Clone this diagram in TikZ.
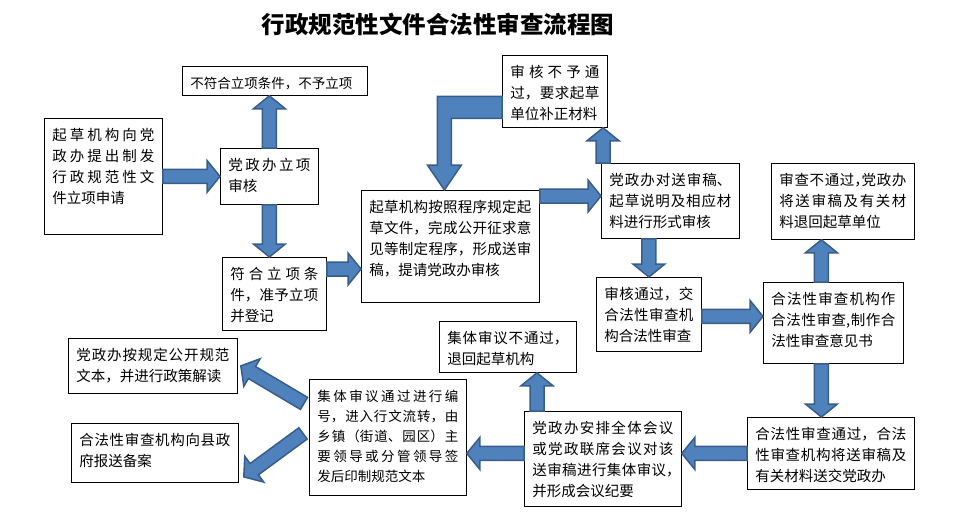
\documentclass[tikz,border=0pt]{standalone}
\usepackage{fontspec}
\setmainfont{Noto Sans CJK SC}
\usetikzlibrary{calc}
\XeTeXlinebreaklocale "zh"
\XeTeXlinebreakskip=0pt plus 4pt
\definecolor{arrowblue}{RGB}{79,129,189}
\definecolor{arrowedge}{RGB}{56,93,138}
\newcommand{\boxfont}{\tolerance=9999\fontsize{14.5}{21}\selectfont}
\newcommand{\smallboxfont}{\tolerance=9999\fontsize{13.5}{20}\selectfont}
\newcommand{\titlefont}{\bfseries\fontsize{23.5}{28}\selectfont}
\newcommand{\hc}{\makebox[.5em][l]{，}}
\tikzset{
    procbox/.style={draw=black,line width=0.8pt,fill=white,anchor=north west,
        inner xsep=8pt,inner ysep=4pt,align=justify,text height=18pt,font=\boxfont},
    smallbox/.style={procbox,font=\smallboxfont},
    blockarrow/.style={fill=arrowblue,draw=arrowedge,line width=1.5pt,line join=miter},
    titlenode/.style={font=\titlefont}
}
% straight block arrow from #1 to #2 (tip at #2)
\newcommand{\BlockArrow}[2]{%
    \coordinate (ah) at ($(#2)!13pt!(#1)$);
    \filldraw[blockarrow] ($(#1)!7pt!90:(#2)$) -- ($(ah)!7pt!-90:(#1)$) -- ($(ah)!16pt!-90:(#1)$)
        -- (#2) -- ($(ah)!16pt!90:(#1)$) -- ($(ah)!7pt!90:(#1)$) -- ($(#1)!7pt!-90:(#2)$) -- cycle;%
}

\begin{document}
\begin{tikzpicture}[x=1pt,y=-1pt]
    \useasboundingbox (0,0) rectangle (963,516);

    % title
    \node[titlenode] (title) at (438,24) {行政规范性文件合法性审查流程图};

    % upper part
    \node[procbox,text width=102pt,text depth=90pt] (b0) at (44,118) {起草机构向党\linebreak 政办提出制发\linebreak 行政规范性文\linebreak 件立项申请};
    \node[procbox,font=\smallboxfont,text width=169pt,text depth=3pt] (b1) at (182,66) {不符合立项条件，不予立项};
    \node[procbox,text width=82pt,text depth=30pt] (b2) at (220,148) {党政办立项\linebreak 审核};
    \node[procbox,text width=88pt,text depth=47pt] (b3) at (222,257) {符合立项条\linebreak 件，准予立项\linebreak 并登记};
    \node[procbox,text width=162pt,text depth=86pt] (b4) at (361,190) {起草机构按照程序规定起\linebreak 草文件，完成公开征求意\linebreak 见等制定程序，形成送审\linebreak 稿，提请党政办审核};
    \node[procbox,text width=89pt,text depth=46pt] (b5) at (502,55) {审核不予通\linebreak 过，要求起草\linebreak 单位补正材料};
    \node[procbox,text width=122pt,text depth=49pt] (b6) at (601,163) {党政办对送审稿、\linebreak 起草说明及相应材\linebreak 料进行形式审核};
    \node[procbox,text width=89pt,text depth=48pt] (b7) at (596,277) {审核通过，交\linebreak 合法性审查机\linebreak 构合法性审查};
    \node[procbox,text width=127pt,text depth=50pt] (b8) at (771,163) {审查不通过\hc 党政办\linebreak 将送审稿及有关材\linebreak 料退回起草单位};
    \node[procbox,text width=124pt,text depth=55pt] (b9) at (763,282) {合法性审查机构作\linebreak 合法性审查,制作合\linebreak 法性审查意见书};

    % lower part
    \node[procbox,text width=151pt,text depth=46pt] (b10) at (747,417) {合法性审查通过，合法\linebreak 性审查机构将送审稿及\linebreak 有关材料送交党政办};
    \node[procbox,text width=141pt,text depth=69pt] (b11) at (524,411) {党政办安排全体会议\linebreak 或党政联席会议对该\linebreak 送审稿进行集体审议\hc\linebreak 并形成会议纪要};
    \node[procbox,text width=121pt,text depth=25pt] (b15) at (439,321) {集体审议不通过，\linebreak 退回起草机构};
    \node[smallbox,text width=141pt,text depth=90pt] (b14) at (309,379) {集体审议通过进行编\linebreak 号，进入行文流转，由\linebreak 乡镇（街道、园区）主\linebreak 要领导或分管领导签\linebreak 发后印制规范文本};
    \node[procbox,text width=153pt,text depth=29pt] (b12) at (68,338) {党政办按规定公开规范\linebreak 文本，并进行政策解读};
    \node[procbox,text width=151pt,text depth=33pt] (b13) at (71,423) {合法性审查机构向县政\linebreak 府报送备案};

    % arrows
    \BlockArrow{b0.east}{b2.west}
    \coordinate (u2) at (b2.north |- b1.south);
    \BlockArrow{b2.north}{u2}
    \coordinate (d2) at (b2.south |- b3.north);
    \BlockArrow{b2.south}{d2}
    \coordinate (s3) at ([yshift=-12pt]b3.north east);
    \coordinate (t3) at (s3 -| b4.west);
    \BlockArrow{s3}{t3}
    \coordinate (s4) at ([yshift=-6pt]b4.north east);
    \coordinate (t4) at (s4 -| b6.west);
    \BlockArrow{s4}{t4}
    \coordinate (s6) at ([xshift=2pt]b6.north west);
    \coordinate (t6) at (s6 |- b5.south);
    \BlockArrow{s6}{t6}
    \coordinate (s7) at (b7.north |- b6.south);
    \BlockArrow{s7}{b7.north}
    \coordinate (s9) at ([yshift=-2pt]b7.east);
    \coordinate (t9) at (s9 -| b9.west);
    \BlockArrow{s9}{t9}
    \coordinate (s8) at ([xshift=-12pt]b9.north);
    \coordinate (t8) at (s8 |- b8.south);
    \BlockArrow{s8}{t8}
    \coordinate (s10) at ([xshift=-12pt]b9.south);
    \coordinate (t10) at (s10 |- b10.north);
    \BlockArrow{s10}{t10}
    \coordinate (t11) at (b10.west -| b11.east);
    \BlockArrow{b10.west}{t11}
    \coordinate (s14) at (b10.west -| b11.west);
    \coordinate (t14) at (b10.west -| b14.east);
    \BlockArrow{s14}{t14}
    \coordinate (s15) at ([xshift=13pt]b11.north west);
    \coordinate (t15) at (s15 |- b15.south);
    \BlockArrow{s15}{t15}
    \coordinate (s12) at ([xshift=-5pt,yshift=34pt]b14.west);
    \coordinate (t12) at ([xshift=3pt]b12.east);
    \BlockArrow{s12}{t12}
    \coordinate (s13) at ([xshift=-6pt,yshift=4pt]b14.west);
    \coordinate (t13) at ([xshift=5pt,yshift=-24pt]b13.east);
    \BlockArrow{s13}{t13}

    % bent arrow back to the drafting box
    \coordinate (bt) at ([yshift=-16pt]b5.west);
    \coordinate (bk) at ([xshift=-6pt]b4.north);
    \filldraw[blockarrow] ($(bt)+(0,-11)$) -- ($(bk|-bt)+(-7,-11)$) -- ($(bk)+(-7,-25)$) -- ($(bk)+(-17,-25)$)
        -- (bk) -- ($(bk)+(17,-25)$) -- ($(bk)+(7,-25)$) -- ($(bk|-bt)+(7,11)$) -- ($(bt)+(0,11)$) -- cycle;
\end{tikzpicture}
\end{document}
